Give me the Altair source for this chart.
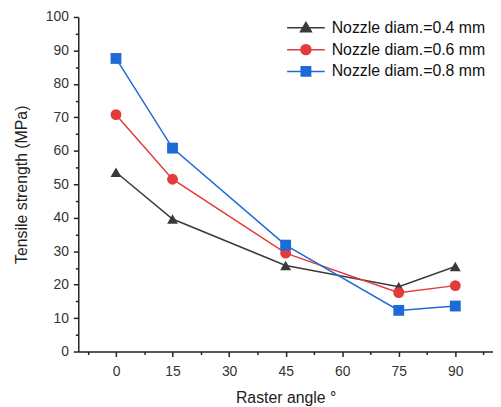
import altair as alt
import pandas as pd

angles = [0, 15, 45, 75, 90]
series_names = ["Nozzle diam.=0.4 mm", "Nozzle diam.=0.6 mm", "Nozzle diam.=0.8 mm"]
strength_04 = [53.6, 39.6, 25.7, 19.4, 25.4]
strength_06 = [70.8, 51.5, 29.4, 17.6, 19.7]
strength_08 = [87.6, 60.8, 31.8, 12.3, 13.6]
colors = ["#3a3a3a", "#e23b3b", "#1e6ad6"]
shapes = ["triangle-up", "circle", "square"]
legend_paths = [
    "M-3.8,0H3.8M0,-1.1L1.1,0.8L-1.1,0.8Z",
    "M-3.8,0H3.8M-1,0A1,1,0,1,1,1,0A1,1,0,1,1,-1,0Z",
    "M-3.8,0H3.8M-0.95,-0.95H0.95V0.95H-0.95Z",
]
x_ticks = [-7.5, 0, 7.5, 15, 22.5, 30, 37.5, 45, 52.5, 60, 67.5, 75, 82.5, 90, 97.5]
y_ticks = [0, 5, 10, 15, 20, 25, 30, 35, 40, 45, 50, 55, 60, 65, 70, 75, 80, 85, 90, 95, 100]

rows = []
for name, vals in zip(series_names, [strength_04, strength_06, strength_08]):
    for a, v in zip(angles, vals):
        rows.append({"angle": a, "strength": v, "series": name})
df = pd.DataFrame(rows)

FONT = "Liberation Sans"

x_enc = alt.X(
    "angle:Q",
    scale=alt.Scale(domain=[-10, 100], nice=False, zero=False),
    axis=alt.Axis(
        title="Raster angle °",
        values=x_ticks,
        labelExpr="datum.value % 15 == 0 ? datum.label : ''",
        tickSize={"condition": {"test": "datum.value % 15 == 0", "value": 5}, "value": 3},
        grid=False,
        labelPadding=8,
        titlePadding=11,
    ),
)
y_enc = alt.Y(
    "strength:Q",
    scale=alt.Scale(domain=[0, 100], nice=False),
    axis=alt.Axis(
        title="Tensile strength (MPa)",
        values=y_ticks,
        labelExpr="datum.value % 10 == 0 ? datum.label : ''",
        tickSize={"condition": {"test": "datum.value % 10 == 0", "value": 5}, "value": 3},
        grid=False,
        labelPadding=5,
        titlePadding=16,
    ),
)

color_scale = alt.Scale(domain=series_names, range=colors)

lines = alt.Chart(df).mark_line(strokeWidth=1.5).encode(
    x=x_enc, y=y_enc,
    color=alt.Color("series:N", scale=color_scale, legend=None),
    detail="series:N",
)
points = alt.Chart(df).mark_point(filled=True, size=120, opacity=1).encode(
    x=x_enc, y=y_enc,
    color=alt.Color("series:N", scale=color_scale, legend=None),
    shape=alt.Shape("series:N", scale=alt.Scale(domain=series_names, range=shapes), legend=None),
)

leg = alt.Legend(
    title=None, orient="none", legendX=202, legendY=3,
    labelFont=FONT, labelFontSize=16, labelColor="#111",
    symbolSize=100, symbolStrokeWidth=1.5, symbolOpacity=1, labelOffset=18, rowPadding=6,
    symbolOffset=20,
)
legend_layer = alt.Chart(df).transform_filter("false").mark_point(size=100, opacity=1).encode(
    fill=alt.Fill("series:N", scale=alt.Scale(domain=series_names, range=colors), legend=leg),
    stroke=alt.Stroke("series:N", scale=alt.Scale(domain=series_names, range=colors), legend=leg),
    shape=alt.Shape("series:N", scale=alt.Scale(domain=series_names, range=legend_paths), legend=leg),
)

chart = alt.layer(lines, points, legend_layer).resolve_scale(
    color="independent", shape="independent", fill="independent", stroke="independent"
).properties(
    width=419, height=338,
    autosize=alt.AutoSizeParams(type="none"),
    padding={"left": 71, "top": 7, "right": 0, "bottom": 56},
).configure_view(stroke=None).configure_axis(
    domainColor="#222", tickColor="#222", domainWidth=1.5, tickWidth=1.5,
    labelFont=FONT, labelFontSize=14, labelColor="#333",
    titleFont=FONT, titleFontSize=16, titleFontWeight="normal", titleColor="#222",
)

chart.save("out.html", embed_options={"renderer": "svg", "actions": False})
